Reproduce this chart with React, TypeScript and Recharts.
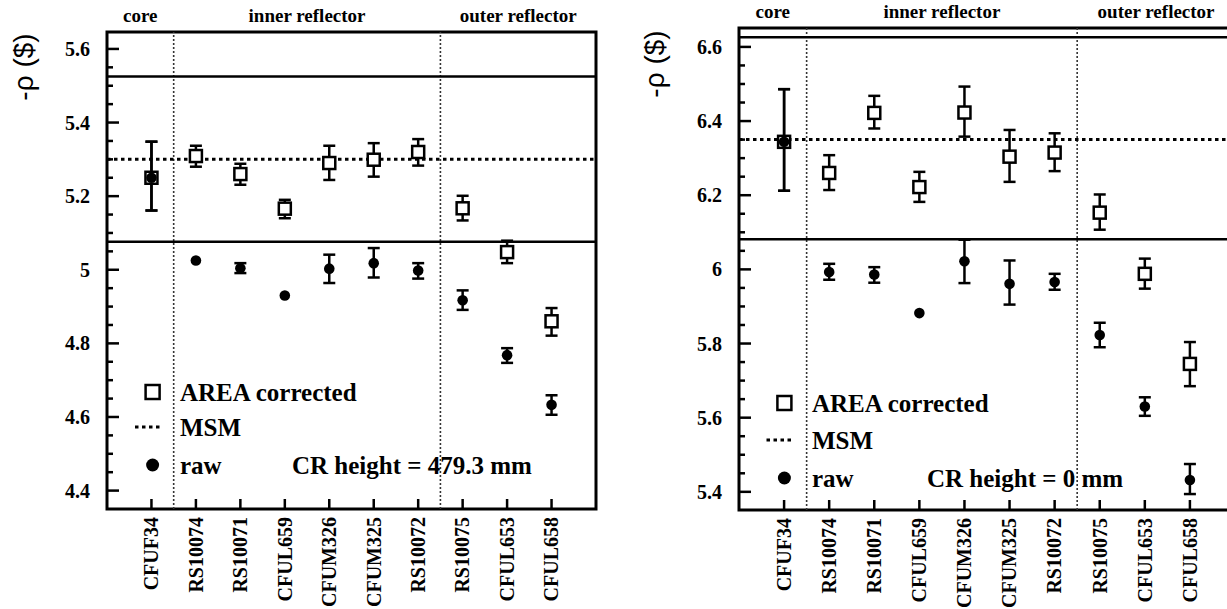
import React from "react";
import {
  ScatterChart,
  Scatter,
  XAxis,
  YAxis,
  ErrorBar,
  ReferenceLine,
  ReferenceArea,
} from "recharts";

const SAMPLES = [
  "CFUF34",
  "RS10074",
  "RS10071",
  "CFUL659",
  "CFUM326",
  "CFUM325",
  "RS10072",
  "RS10075",
  "CFUL653",
  "CFUL658",
];

// CR height = 479.3 mm
const LEFT_AREA = [5.25, 5.309, 5.26, 5.166, 5.29, 5.299, 5.32, 5.167, 5.048, 4.86];
const LEFT_AREA_UP = [0.098, 0.028, 0.028, 0.024, 0.047, 0.045, 0.035, 0.034, 0.031, 0.036];
const LEFT_AREA_DOWN = [0.089, 0.029, 0.029, 0.026, 0.046, 0.046, 0.037, 0.033, 0.03, 0.039];
const LEFT_RAW = [5.25, 5.025, 5.004, 4.93, 5.003, 5.018, 4.998, 4.917, 4.768, 4.633];
const LEFT_RAW_UP = [0.098, 0, 0.014, 0, 0.038, 0.041, 0.02, 0.027, 0.019, 0.026];
const LEFT_RAW_DOWN = [0.089, 0, 0.013, 0, 0.039, 0.039, 0.022, 0.026, 0.021, 0.027];
const LEFT_MSM = 5.3;
const LEFT_BOUNDS = [5.525, 5.076];
const LEFT_MAJOR = [4.4, 4.6, 4.8, 5, 5.2, 5.4, 5.6];

// CR height = 0 mm
const RIGHT_AREA = [6.344, 6.26, 6.422, 6.222, 6.423, 6.304, 6.315, 6.153, 5.988, 5.745];
const RIGHT_AREA_UP = [0.142, 0.048, 0.046, 0.041, 0.07, 0.072, 0.052, 0.049, 0.041, 0.059];
const RIGHT_AREA_DOWN = [0.132, 0.046, 0.042, 0.04, 0.065, 0.068, 0.05, 0.046, 0.04, 0.06];
const RIGHT_RAW = [6.344, 5.993, 5.986, 5.882, 6.022, 5.961, 5.966, 5.823, 5.63, 5.432];
const RIGHT_RAW_UP = [0.142, 0.022, 0.02, 0, 0.058, 0.063, 0.022, 0.033, 0.025, 0.043];
const RIGHT_RAW_DOWN = [0.132, 0.021, 0.022, 0, 0.059, 0.056, 0.021, 0.033, 0.025, 0.038];
const RIGHT_MSM = 6.35;
const RIGHT_BOUNDS = [6.626, 6.081];
const RIGHT_MAJOR = [5.4, 5.6, 5.8, 6, 6.2, 6.4, 6.6];

const REGIONS = [
  { name: "core", from: 0, to: 1.5 },
  { name: "inner reflector", from: 1.5, to: 7.5 },
  { name: "outer reflector", from: 7.5, to: 11 },
];
const X_TICKS = SAMPLES.map((_, i) => i + 1);

const SERIF = "Liberation Serif";
const SANS = "Liberation Sans";

function points(vals: number[], up: number[], down: number[]) {
  return vals.map((v, i) => ({
    x: i + 1,
    y: v,
    err: up[i] || down[i] ? [down[i], up[i]] : null,
  }));
}

// major ticks plus three minor ones between each pair (0.05 steps)
function withMinors(major: number[]) {
  const out: number[] = [];
  for (let i = 0; i < major.length; i++) {
    out.push(major[i]);
    if (i < major.length - 1) {
      for (let k = 1; k < 4; k++) out.push(Math.round((major[i] + k * 0.05) * 100) / 100);
    }
  }
  return out;
}

const Square = (p: any) => (
  <rect x={p.cx - 6} y={p.cy - 6} width={12} height={12} fill="#fff" stroke="#000" strokeWidth={2.5} />
);
const Dot = (p: any) => <circle cx={p.cx} cy={p.cy} r={5.3} fill="#000" />;

function Panel(props: any) {
  const { w, h, plotLeft, plotTop, plotRight, plotBottom, domain, major, area, raw, msm, bounds } = props;
  const ticks = withMinors(major);

  const YTick = (t: any) => {
    const v = t.payload.value;
    const isMajor = major.some((m: number) => Math.abs(m - v) < 1e-6);
    return (
      <g>
        <line x1={t.x} x2={t.x + (isMajor ? 12 : 6)} y1={t.y} y2={t.y} stroke="#000" strokeWidth={2.5} />
        {isMajor && (
          <text x={t.x - 17} y={t.y} textAnchor="end" dominantBaseline="central" fontFamily={SERIF} fontWeight="bold" fontSize={20} fill="#000">
            {String(v)}
          </text>
        )}
      </g>
    );
  };

  const XTick = (t: any) => (
    <g>
      <line x1={t.x} x2={t.x} y1={t.y} y2={t.y - 10} stroke="#000" strokeWidth={2.5} />
      <text
        transform={`translate(${t.x},${t.y + 8}) rotate(-90)`}
        textAnchor="end"
        dy="0.34em"
        fontFamily={SERIF}
        fontWeight="bold"
        fontSize={20}
        fill="#000"
      >
        {SAMPLES[t.payload.value - 1]}
      </text>
    </g>
  );

  return (
    <ScatterChart
      width={w}
      height={h}
      margin={{ top: plotTop, right: w - plotRight, bottom: 0, left: 0 }}
    >
      <XAxis
        type="number"
        dataKey="x"
        domain={[0, 11]}
        ticks={X_TICKS}
        interval={0}
        allowDataOverflow
        height={h - plotBottom}
        axisLine={false}
        tickLine={false}
        tickSize={0}
        tickMargin={0}
        tick={XTick}
      />
      <YAxis
        type="number"
        dataKey="y"
        domain={domain}
        ticks={ticks}
        interval={0}
        allowDataOverflow
        width={plotLeft}
        axisLine={false}
        tickLine={false}
        tickSize={0}
        tickMargin={0}
        tick={YTick}
      />
      {REGIONS.map((r) => (
        <ReferenceArea
          key={r.name}
          x1={r.from}
          x2={r.to}
          fill="none"
          stroke="none"
          ifOverflow="visible"
          label={{
            value: r.name,
            position: "top",
            offset: 10,
            fill: "#000",
            fontFamily: SERIF,
            fontWeight: "bold",
            fontSize: 19,
          }}
        />
      ))}
      <ReferenceLine x={1.5} stroke="#333" strokeWidth={1.6} strokeDasharray="2 2" ifOverflow="visible" />
      <ReferenceLine x={7.5} stroke="#333" strokeWidth={1.6} strokeDasharray="2 2" ifOverflow="visible" />
      {bounds.map((b: number) => (
        <ReferenceLine key={b} y={b} stroke="#000" strokeWidth={2.5} ifOverflow="visible" />
      ))}
      <ReferenceLine y={msm} stroke="#000" strokeWidth={3} strokeDasharray="3.5 3.5" ifOverflow="visible" />
      <Scatter data={area} shape={Square} isAnimationActive={false}>
        <ErrorBar dataKey="err" direction="y" width={6} stroke="#000" strokeWidth={2.5} />
      </Scatter>
      <Scatter data={raw} shape={Dot} isAnimationActive={false}>
        <ErrorBar dataKey="err" direction="y" width={6} stroke="#000" strokeWidth={2.5} />
      </Scatter>
      <ReferenceArea
        x1={0}
        x2={11}
        y1={domain[0]}
        y2={domain[1]}
        fill="none"
        stroke="#000"
        strokeWidth={3}
        fillOpacity={0}
        ifOverflow="visible"
      />
    </ScatterChart>
  );
}

function Overlay(props: any) {
  const { w, h, yLabelX, yLabelY, mx, tx, rows, lineX, crX, crText } = props;
  const txt = { fontFamily: SERIF, fontWeight: "bold" as const, fontSize: 25, fill: "#000" };
  return (
    <svg width={w} height={h} style={{ position: "absolute", left: 0, top: 0, pointerEvents: "none" }}>
      <text
        transform={`translate(${yLabelX},${yLabelY}) rotate(-90)`}
        textAnchor="middle"
        dominantBaseline="central"
        fontFamily={SANS}
        fontSize={28}
        fill="#000"
      >
        -ρ ($)
      </text>
      <rect x={mx - 7} y={rows[0] - 7} width={14} height={14} fill="#fff" stroke="#000" strokeWidth={2.5} />
      <text x={tx} y={rows[0]} dominantBaseline="central" {...txt}>AREA corrected</text>
      <line x1={lineX[0]} x2={lineX[1]} y1={rows[1]} y2={rows[1]} stroke="#000" strokeWidth={3} strokeDasharray="3.5 3.5" />
      <text x={tx} y={rows[1]} dominantBaseline="central" {...txt}>MSM</text>
      <circle cx={mx} cy={rows[2]} r={6.5} fill="#000" />
      <text x={tx} y={rows[2]} dominantBaseline="central" {...txt}>raw</text>
      <text x={crX} y={rows[2]} dominantBaseline="central" {...txt}>{crText}</text>
    </svg>
  );
}

export default function App() {
  const leftArea = points(LEFT_AREA, LEFT_AREA_UP, LEFT_AREA_DOWN);
  const leftRaw = points(LEFT_RAW, LEFT_RAW_UP, LEFT_RAW_DOWN);
  const rightArea = points(RIGHT_AREA, RIGHT_AREA_UP, RIGHT_AREA_DOWN);
  const rightRaw = points(RIGHT_RAW, RIGHT_RAW_UP, RIGHT_RAW_DOWN);

  return (
    <div style={{ position: "relative", width: 1227, height: 609, overflow: "hidden", background: "#fff" }}>
      <style>{"body{margin:0}"}</style>
      <div style={{ position: "absolute", left: 0, top: 0, width: 620, height: 609 }}>
        <Panel
          w={620}
          h={609}
          plotLeft={107}
          plotTop={32}
          plotRight={596}
          plotBottom={509}
          domain={[4.35, 5.646]}
          major={LEFT_MAJOR}
          area={leftArea}
          raw={leftRaw}
          msm={LEFT_MSM}
          bounds={LEFT_BOUNDS}
        />
        <Overlay
          w={620}
          h={609}
          yLabelX={23}
          yLabelY={67}
          mx={152.6}
          tx={180}
          rows={[392, 427, 465]}
          lineX={[135, 161]}
          crX={292}
          crText="CR height = 479.3 mm"
        />
      </div>
      <div style={{ position: "absolute", left: 610, top: 0, width: 640, height: 609 }}>
        <Panel
          w={640}
          h={609}
          plotLeft={129}
          plotTop={28}
          plotRight={625}
          plotBottom={510}
          domain={[5.351, 6.651]}
          major={RIGHT_MAJOR}
          area={rightArea}
          raw={rightRaw}
          msm={RIGHT_MSM}
          bounds={RIGHT_BOUNDS}
        />
        <Overlay
          w={640}
          h={609}
          yLabelX={44}
          yLabelY={64}
          mx={174.4}
          tx={202}
          rows={[403, 440, 478]}
          lineX={[156.5, 184]}
          crX={317}
          crText="CR height = 0 mm"
        />
      </div>
    </div>
  );
}
